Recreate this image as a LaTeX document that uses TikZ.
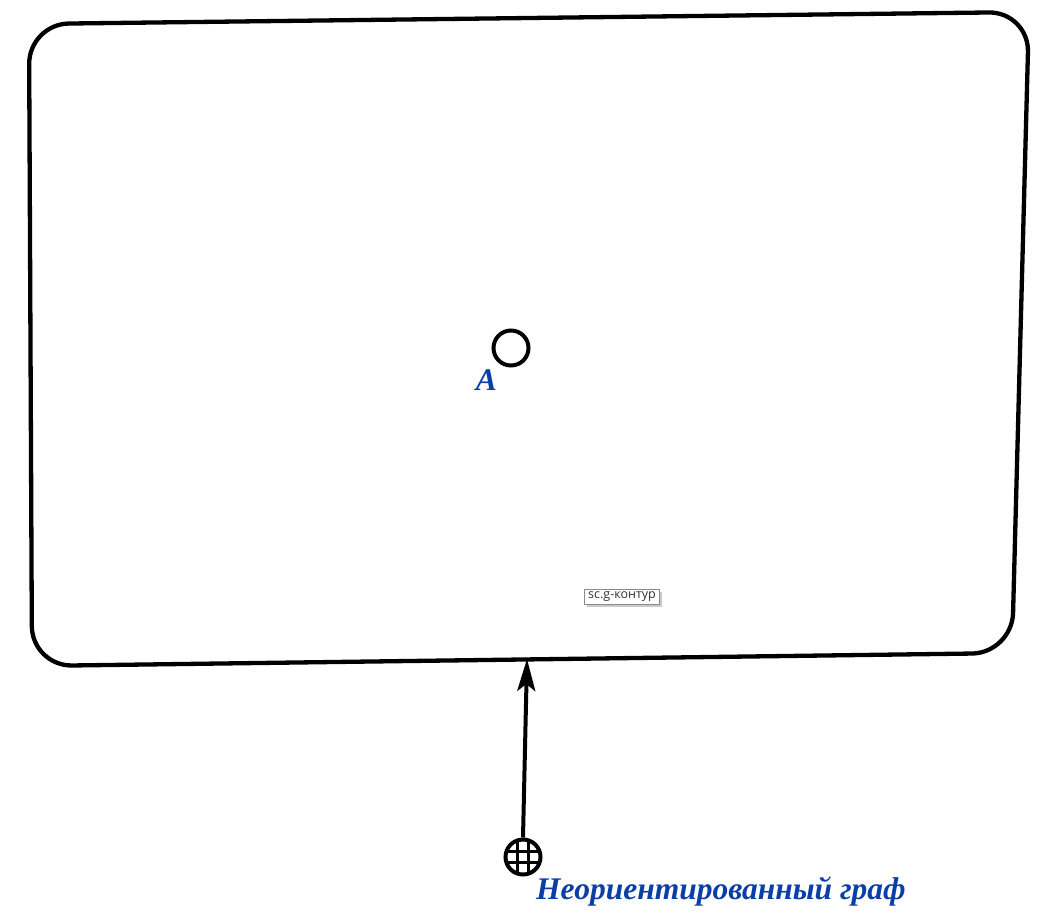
\documentclass[tikz,border=0pt]{standalone}
\usepackage{fontspec}
\setmainfont{Liberation Serif}
\newfontfamily\lblfont{Open Sans}
\usetikzlibrary{arrows.meta,shadows}
\definecolor{scblue}{HTML}{0C3FA6}
\definecolor{lblgray}{HTML}{8A8A8A}
\tikzset{
  frameline/.style={line width=4.3pt, rounded corners=40pt},
  vertexnode/.style={circle, draw, line width=4pt, minimum size=35pt, inner sep=0pt},
  idtext/.style={text=scblue, font=\fontsize{31.5}{36}\selectfont\bfseries\itshape, inner sep=0pt},
  conarrow/.style={line width=4pt, -{Stealth[length=32pt,width=18pt,inset=7pt]}},
  typelabel/.style={draw=lblgray, line width=0.9pt, fill=white, font=\lblfont\fontsize{12.5}{14}\selectfont, text=black!80, inner xsep=4pt, inner ysep=2.5pt,
    drop shadow={shadow xshift=2.5pt, shadow yshift=-2.5pt, fill=black!35, opacity=0.6}}
}
\begin{document}
\begin{tikzpicture}[x=1pt,y=-1pt]
\useasboundingbox (0,0) rectangle (1057,921);
% contour
\draw[frameline] (29,24) -- (1029,12) -- (1012,653) -- (32,666) -- cycle;
\coordinate (contourbottom) at (527,659);
% vertex A
\node[vertexnode] (vA) at (511,348) {};
\node[idtext, anchor=base east] (labA) at (497,390) {A};
% type label
\node[typelabel] (tlabel) at (622,597) {sc.g-контур};
% globe node
\node[circle, draw, line width=4pt, minimum size=35pt, inner sep=0pt] (globe) at (523,857) {};
\begin{scope}
\clip (globe.center) circle (16pt);
\foreach \d in {-5.5,5.5}{
  \draw[line width=3pt] ([xshift=\d pt]globe.north) -- ([xshift=\d pt]globe.south);
  \draw[line width=3pt] ([yshift=\d pt]globe.west) -- ([yshift=\d pt]globe.east);
}
\end{scope}
\node[idtext, anchor=base west] (globelabel) at (536,899) {Неориентированный граф};
% connector
\draw[conarrow] (globe.north) -- (contourbottom);
\end{tikzpicture}
\end{document}
